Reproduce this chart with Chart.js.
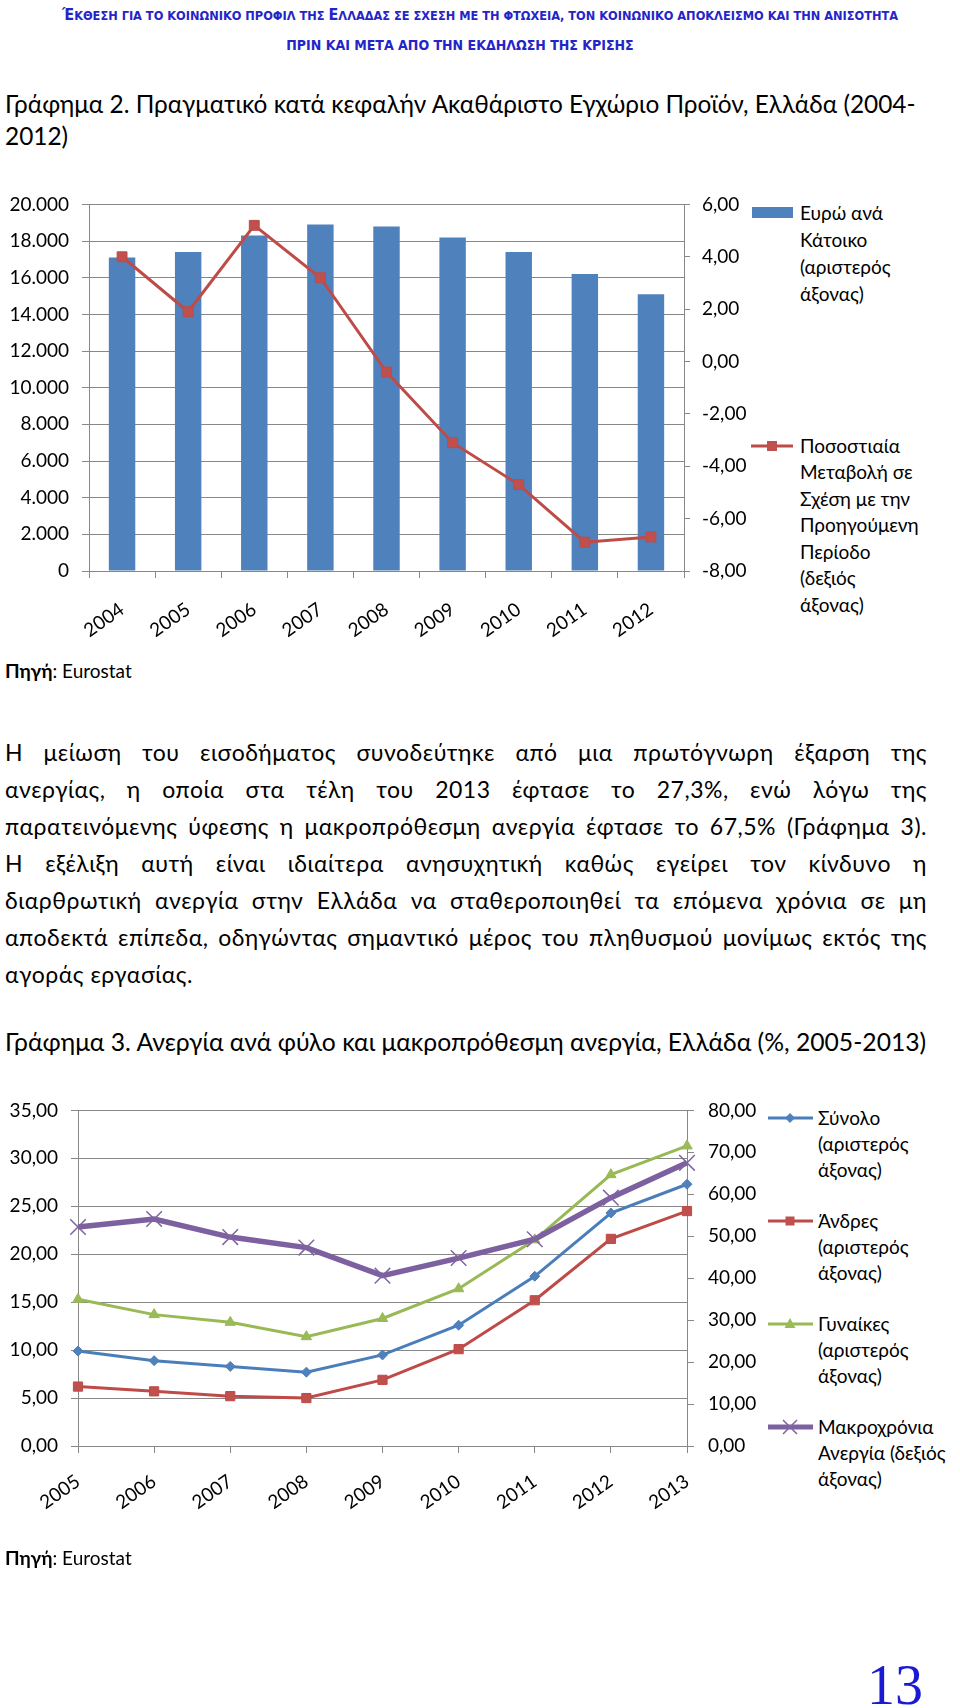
<!DOCTYPE html>
<html lang="el">
<head>
<meta charset="UTF-8" />
<meta name="viewport" content="width=device-width, initial-scale=1" />
<title>Γραφήματα 2 και 3</title>
<script src="https://cdn.jsdelivr.net/npm/chart.js"></script>
<style>
  body { margin: 0; background: #fff; }
  #page { position: relative; width: 960px; height: 1708px; overflow: hidden; font-family: Lato, "Noto Sans", sans-serif; color: #000; }
  #page > * { position: absolute; }
  .hdr { left: 0; text-align: center; color: #2424c8; font-family: "Liberation Sans Narrow", "DejaVu Sans Condensed", sans-serif; font-stretch: condensed; font-weight: bold; line-height: 20px; white-space: nowrap; }
  .hdr .cap { font-size: 16px; }
  .title { left: 5px; font-size: 24.4px; line-height: 32px; white-space: nowrap; }
  .src { left: 5px; font-size: 19px; line-height: 24px; white-space: nowrap; }
  .para { left: 5px; width: 922px; font-size: 23px; letter-spacing: 0.5px; line-height: 37px; }
  .para div { text-align: justify; text-align-last: justify; white-space: nowrap; }
  .para div.last { text-align-last: left; }
  .leg { font-size: 19px; white-space: nowrap; }
  .pageno { font-family: "Liberation Serif", "DejaVu Serif", serif; color: #1a1ad2; font-size: 56px; line-height: 56px; }
  canvas { display: block; }
</style>
</head>
<body>
<div id="page">
  <div class="hdr" style="top:5px;width:960px;font-size:12.65px"><span class="cap">Έ</span>ΚΘΕΣΗ ΓΙΑ ΤΟ ΚΟΙΝΩΝΙΚΟ ΠΡΟΦΙΛ ΤΗΣ <span class="cap">Ε</span>ΛΛΑΔΑΣ ΣΕ ΣΧΕΣΗ ΜΕ ΤΗ ΦΤΩΧΕΙΑ, ΤΟΝ ΚΟΙΝΩΝΙΚΟ ΑΠΟΚΛΕΙΣΜΟ ΚΑΙ ΤΗΝ ΑΝΙΣΟΤΗΤΑ</div>
  <div class="hdr" style="top:35px;width:920px;font-size:14px">ΠΡΙΝ ΚΑΙ ΜΕΤΑ ΑΠΟ ΤΗΝ ΕΚΔΗΛΩΣΗ ΤΗΣ ΚΡΙΣΗΣ</div>

  <div class="title" style="top:88px">Γράφημα 2. Πραγματικό κατά κεφαλήν Ακαθάριστο Εγχώριο Προϊόν, Ελλάδα (2004-<br>2012)</div>

  <canvas id="gdpChart" width="760" height="470" style="left:0;top:180px"></canvas>

  <div class="leg" style="left:800px;top:198.5px;line-height:27px">Ευρώ ανά<br>Κάτοικο<br>(αριστερός<br>άξονας)</div>
  <div class="leg" style="left:800px;top:432.75px;line-height:26.5px">Ποσοστιαία<br>Μεταβολή σε<br>Σχέση με την<br>Προηγούμενη<br>Περίοδο<br>(δεξιός<br>άξονας)</div>

  <div class="src" style="top:659px"><b>Πηγή</b>: Eurostat</div>

  <div class="para" style="top:733.5px">
    <div>Η μείωση του εισοδήματος συνοδεύτηκε από μια πρωτόγνωρη έξαρση της</div>
    <div>ανεργίας, η οποία στα τέλη του 2013 έφτασε το 27,3%, ενώ λόγω της</div>
    <div>παρατεινόμενης ύφεσης η μακροπρόθεσμη ανεργία έφτασε το 67,5% (Γράφημα 3).</div>
    <div>Η εξέλιξη αυτή είναι ιδιαίτερα ανησυχητική καθώς εγείρει τον κίνδυνο η</div>
    <div>διαρθρωτική ανεργία στην Ελλάδα να σταθεροποιηθεί τα επόμενα χρόνια σε μη</div>
    <div>αποδεκτά επίπεδα, οδηγώντας σημαντικό μέρος του πληθυσμού μονίμως εκτός της</div>
    <div class="last">αγοράς εργασίας.</div>
  </div>

  <div class="title" style="top:1026px;font-size:24.7px">Γράφημα 3. Ανεργία ανά φύλο και μακροπρόθεσμη ανεργία, Ελλάδα (%, 2005-2013)</div>

  <canvas id="unempChart" width="780" height="450" style="left:0;top:1085px"></canvas>

  <div class="leg" style="left:818px;top:1105px;line-height:26px">Σύνολο<br>(αριστερός<br>άξονας)</div>
  <div class="leg" style="left:818px;top:1208px;line-height:26px">Άνδρες<br>(αριστερός<br>άξονας)</div>
  <div class="leg" style="left:818px;top:1311px;line-height:26px">Γυναίκες<br>(αριστερός<br>άξονας)</div>
  <div class="leg" style="left:818px;top:1414px;line-height:26px">Μακροχρόνια<br>Ανεργία (δεξιός<br>άξονας)</div>

  <svg width="960" height="1708" style="left:0;top:0;pointer-events:none">
    <rect x="752" y="207" width="41" height="11" fill="#4F81BD"/>
    <line x1="751" y1="446" x2="793" y2="446" stroke="#BE4B48" stroke-width="3"/>
    <rect x="767" y="441" width="10" height="10" fill="#C0504D"/>

    <line x1="768" y1="1118" x2="813" y2="1118" stroke="#4A7EBB" stroke-width="3"/>
    <path d="M790 1113 L795 1118 L790 1123 L785 1118 Z" fill="#4F81BD"/>
    <line x1="768" y1="1221" x2="813" y2="1221" stroke="#BE4B48" stroke-width="3"/>
    <rect x="785.5" y="1216.5" width="9" height="9" fill="#C0504D"/>
    <line x1="768" y1="1324" x2="813" y2="1324" stroke="#98B954" stroke-width="3"/>
    <path d="M790 1318 L795.5 1328 L784.5 1328 Z" fill="#9BBB59"/>
    <line x1="768" y1="1427" x2="813" y2="1427" stroke="#7D60A0" stroke-width="5"/>
    <path d="M783 1420 L797 1434 M797 1420 L783 1434" stroke="#8064A2" stroke-width="1.5"/>
  </svg>

  <div class="src" style="top:1546px"><b>Πηγή</b>: Eurostat</div>

  <div class="pageno" style="left:867px;top:1657px">13</div>
</div>

<script>
  // Γράφημα 2
  const gdpYears = ['2004', '2005', '2006', '2007', '2008', '2009', '2010', '2011', '2012'];
  const gdpPerCapita = [17100, 17400, 18300, 18900, 18800, 18200, 17400, 16200, 15100];
  const gdpChange = [4.0, 1.9, 5.2, 3.2, -0.4, -3.1, -4.7, -6.9, -6.7];

  // Γράφημα 3
  const unempYears = ['2005', '2006', '2007', '2008', '2009', '2010', '2011', '2012', '2013'];
  const unempTotal = [9.9, 8.9, 8.3, 7.7, 9.5, 12.6, 17.7, 24.3, 27.3];
  const unempMen = [6.2, 5.7, 5.2, 5.0, 6.9, 10.1, 15.2, 21.6, 24.5];
  const unempWomen = [15.3, 13.7, 12.9, 11.4, 13.3, 16.4, 21.5, 28.3, 31.3];
  const longTermUnemp = [52.2, 54.1, 49.8, 47.3, 40.6, 44.8, 49.3, 59.2, 67.5];

  const GRID = '#888888';
  const tickFont = { family: 'Lato, "Noto Sans", sans-serif', size: 19 };

  const fmtThousands = v => String(v).replace(/\B(?=(\d{3})+(?!\d))/g, '.');
  const fmtComma = v => Number(v).toFixed(2).replace('.', ',');

  Chart.defaults.font.family = tickFont.family;
  Chart.defaults.color = '#000';

  const commonPlugins = { legend: { display: false }, tooltip: { enabled: false } };

  new Chart(document.getElementById('gdpChart'), {
    type: 'bar',
    data: {
      labels: gdpYears,
      datasets: [
        {
          type: 'bar',
          label: 'Ευρώ ανά Κάτοικο (αριστερός άξονας)',
          data: gdpPerCapita,
          backgroundColor: '#4F81BD',
          barPercentage: 0.4,
          categoryPercentage: 1,
          yAxisID: 'y',
          order: 1
        },
        {
          type: 'line',
          label: 'Ποσοστιαία Μεταβολή σε Σχέση με την Προηγούμενη Περίοδο (δεξιός άξονας)',
          data: gdpChange,
          borderColor: '#BE4B48',
          borderWidth: 3,
          pointStyle: 'rect',
          pointRadius: 7,
          pointBackgroundColor: '#C0504D',
          pointBorderColor: '#BE4B48',
          pointBorderWidth: 1,
          tension: 0,
          yAxisID: 'y1',
          order: 0
        }
      ]
    },
    options: {
      responsive: false,
      animation: false,
      layout: { padding: { top: 19, left: 0, right: 0, bottom: 0 } },
      plugins: commonPlugins,
      scales: {
        x: {
          offset: true,
          grid: { offset: true, drawOnChartArea: false, tickLength: 7, color: GRID },
          border: { color: GRID },
          ticks: { font: tickFont, minRotation: 35, maxRotation: 35, padding: 20, autoSkip: false },
          afterFit: s => { s.height = 79; }
        },
        y: {
          position: 'left',
          min: 0,
          max: 20000,
          ticks: { stepSize: 2000, font: tickFont, padding: 13, callback: fmtThousands },
          grid: { color: GRID, tickLength: 7 },
          border: { color: GRID },
          afterFit: s => { s.width = 89; }
        },
        y1: {
          position: 'right',
          min: -8,
          max: 6,
          ticks: { stepSize: 2, font: tickFont, padding: 12, callback: fmtComma },
          grid: { drawOnChartArea: false, tickLength: 6, color: GRID },
          border: { color: GRID },
          afterFit: s => { s.width = 76; }
        }
      }
    }
  });

  new Chart(document.getElementById('unempChart'), {
    type: 'line',
    data: {
      labels: unempYears,
      datasets: [
        {
          label: 'Σύνολο (αριστερός άξονας)',
          data: unempTotal,
          borderColor: '#4A7EBB',
          borderWidth: 3,
          pointStyle: 'rectRot',
          pointRadius: 5,
          pointBackgroundColor: '#4F81BD',
          pointBorderColor: '#4A7EBB',
          pointBorderWidth: 1,
          yAxisID: 'y',
          order: 3
        },
        {
          label: 'Άνδρες (αριστερός άξονας)',
          data: unempMen,
          borderColor: '#BE4B48',
          borderWidth: 3,
          pointStyle: 'rect',
          pointRadius: 6.5,
          pointBackgroundColor: '#C0504D',
          pointBorderColor: '#BE4B48',
          pointBorderWidth: 1,
          yAxisID: 'y',
          order: 2
        },
        {
          label: 'Γυναίκες (αριστερός άξονας)',
          data: unempWomen,
          borderColor: '#98B954',
          borderWidth: 3,
          pointStyle: 'triangle',
          pointRadius: 6,
          pointBackgroundColor: '#9BBB59',
          pointBorderColor: '#98B954',
          pointBorderWidth: 1,
          yAxisID: 'y',
          order: 1
        },
        {
          label: 'Μακροχρόνια Ανεργία (δεξιός άξονας)',
          data: longTermUnemp,
          borderColor: '#7D60A0',
          borderWidth: 5.5,
          pointStyle: 'crossRot',
          pointRadius: 11,
          pointBorderColor: '#8064A2',
          pointBorderWidth: 1.5,
          yAxisID: 'y1',
          order: 0
        }
      ]
    },
    options: {
      responsive: false,
      animation: false,
      layout: { padding: { top: 20, left: 0, right: 0, bottom: 0 } },
      plugins: commonPlugins,
      scales: {
        x: {
          offset: false,
          grid: { drawOnChartArea: false, tickLength: 7, color: GRID },
          border: { color: GRID },
          ticks: { font: tickFont, minRotation: 35, maxRotation: 35, padding: 17, autoSkip: false },
          afterFit: s => { s.height = 89; }
        },
        y: {
          position: 'left',
          min: 0,
          max: 35,
          ticks: { stepSize: 5, font: tickFont, padding: 13, callback: fmtComma },
          grid: { color: GRID, tickLength: 7 },
          border: { color: GRID },
          afterFit: s => { s.width = 78; }
        },
        y1: {
          position: 'right',
          min: 0,
          max: 80,
          ticks: { stepSize: 10, font: tickFont, padding: 14, callback: fmtComma },
          grid: { drawOnChartArea: false, tickLength: 7, color: GRID },
          border: { color: GRID },
          afterFit: s => { s.width = 93; }
        }
      }
    }
  });
</script>
</body>
</html>
